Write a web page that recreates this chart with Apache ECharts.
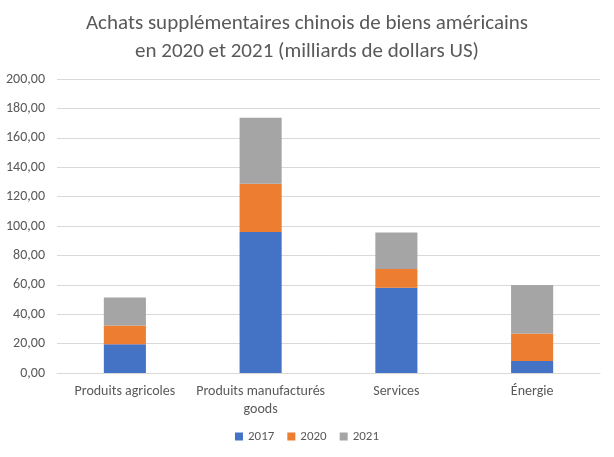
<!DOCTYPE html>
<html><head><meta charset="utf-8">
<script src="https://cdn.jsdelivr.net/npm/echarts@6/dist/echarts.min.js"></script>
<style>html,body{margin:0;padding:0;background:#fff}#c{width:614px;height:457px}</style>
</head><body><div id="c"></div>
<script>
const categories = ['Produits agricoles', 'Produits manufacturés\ngoods', 'Services', 'Énergie'];
const seriesNames = ['2017', '2020', '2021'];
const v2017 = [19.6, 96.0, 58.0, 8.2];
const v2020 = [12.7, 32.7, 12.7, 18.7];
const v2021 = [19.1, 45.0, 24.8, 32.9];
const colors = ['#4472C4', '#ED7D31', '#A5A5A5'];
const font = 'Carlito, Lato, "Open Sans", sans-serif';
const chart = echarts.init(document.getElementById('c'));
const data = [v2017, v2020, v2021];
chart.setOption({
  animation: false,
  title: {
    text: 'Achats supplémentaires chinois de biens américains\nen 2020 et 2021 (milliards de dollars US)',
    left: 'center', top: 5,
    textStyle: {fontFamily: font, fontSize: 21, fontWeight: 'normal', color: '#595959', lineHeight: 28}
  },
  legend: {
    bottom: 9, left: 'center', itemWidth: 8, itemHeight: 8, itemGap: 13, icon: 'rect',
    textStyle: {fontFamily: font, fontSize: 13, color: '#595959'},
    data: seriesNames
  },
  grid: {left: 57, right: 14, top: 79, bottom: 84},
  xAxis: {
    type: 'category', data: categories,
    axisLine: {lineStyle: {color: '#d9d9d9'}}, axisTick: {show: false},
    axisLabel: {fontFamily: font, fontSize: 14, color: '#595959', margin: 9, lineHeight: 18, interval: 0}
  },
  yAxis: {
    type: 'value', min: 0, max: 200, interval: 20,
    axisLine: {show: false}, axisTick: {show: false},
    splitLine: {lineStyle: {color: '#d9d9d9'}},
    axisLabel: {fontFamily: font, fontSize: 14, color: '#595959', margin: 12,
      formatter: v => v.toFixed(2).replace('.', ',')}
  },
  series: seriesNames.map((n, i) => ({
    name: n, type: 'bar', stack: 'a', data: data[i], barWidth: '31%',
    itemStyle: {color: colors[i]}
  }))
});
</script></body></html>
